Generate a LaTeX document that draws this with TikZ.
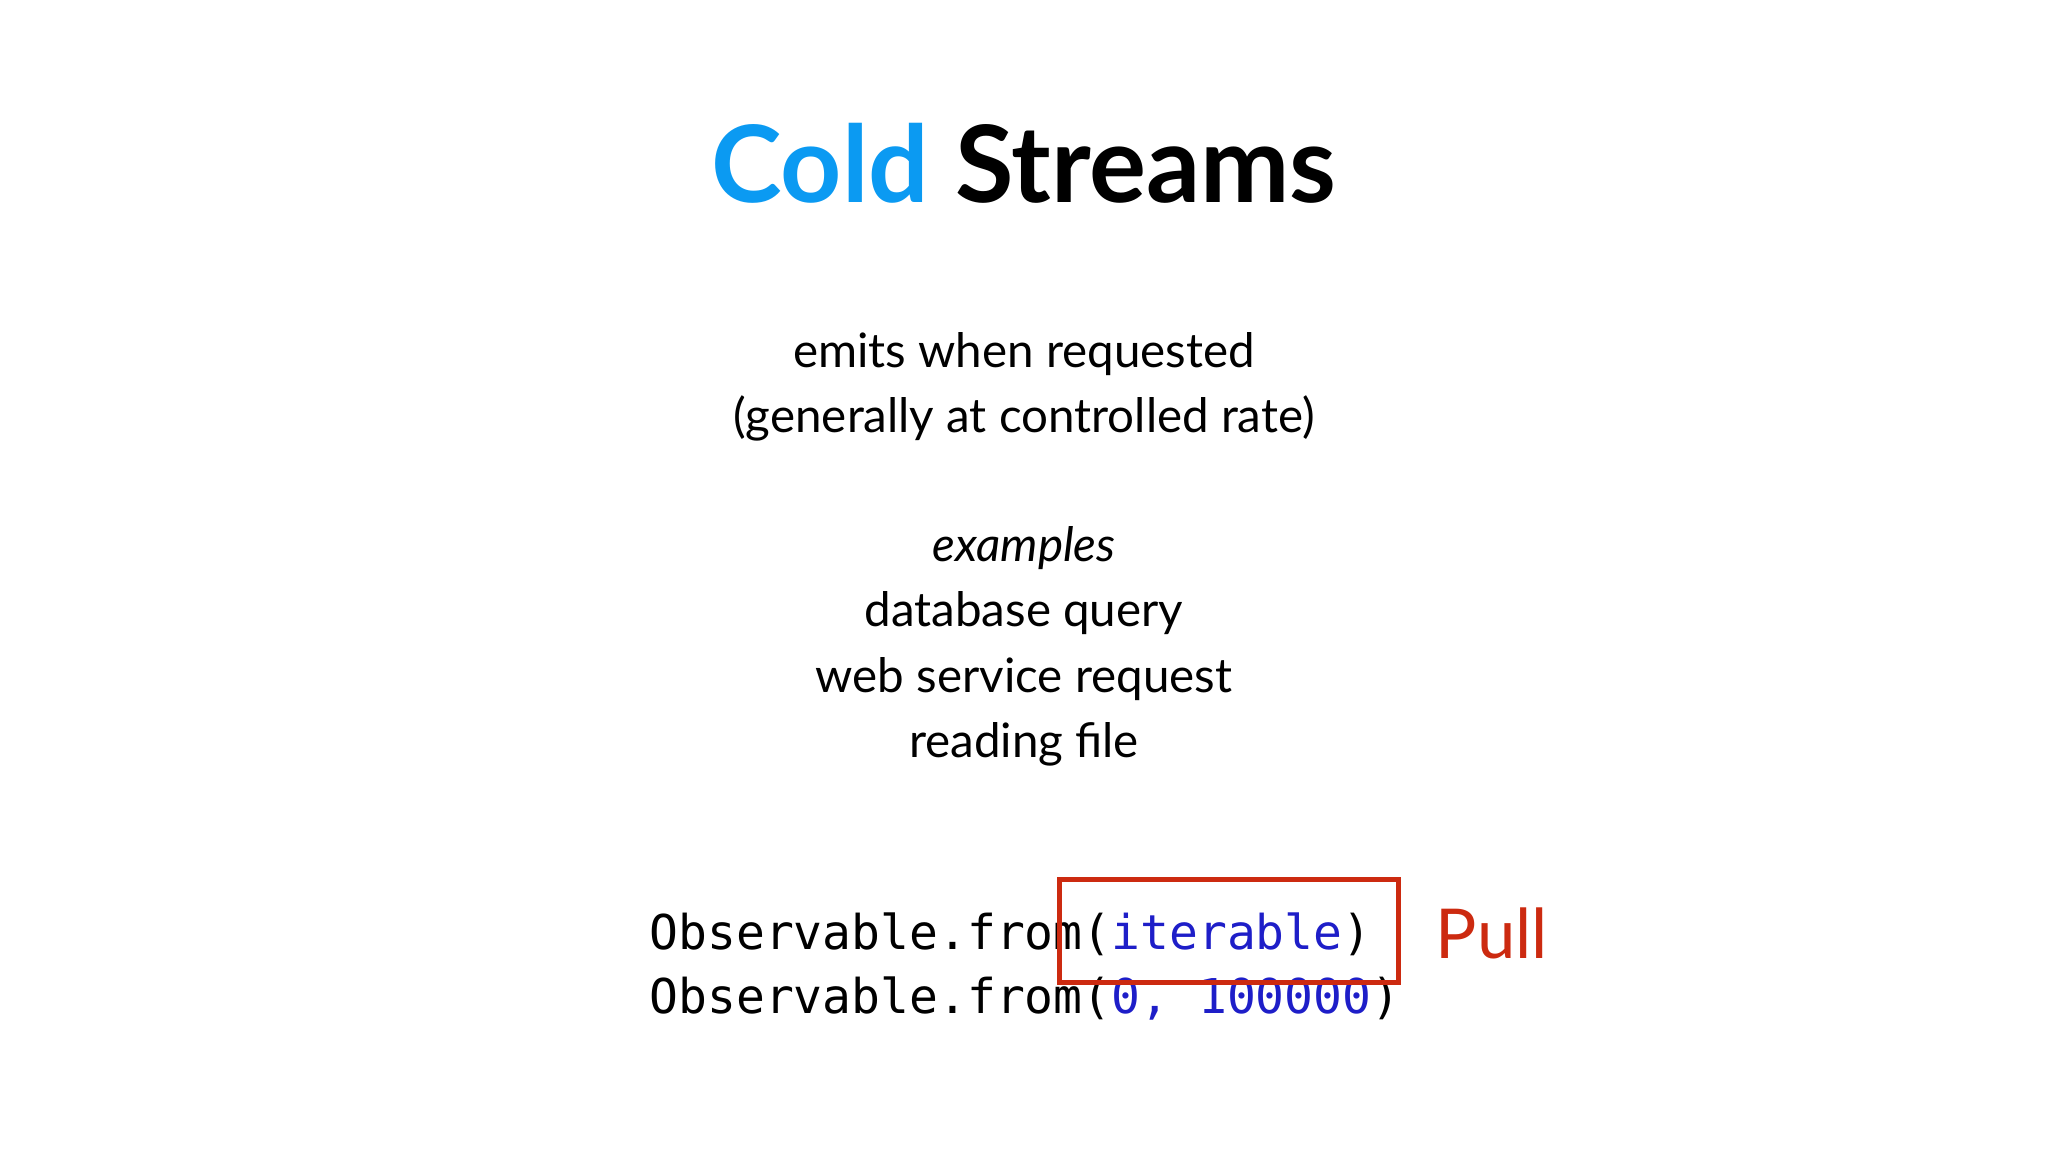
\documentclass[tikz,border=0pt]{standalone}
\usepackage{fontspec}
\setmainfont{Lato}
\setmonofont{DejaVu Sans Mono}
\definecolor{titleblue}{HTML}{0B9AF2}
\definecolor{codeblue}{HTML}{1E1EC8}
\definecolor{pullred}{HTML}{CC2A10}
\tikzset{body/.style={font=\fontsize{20.7}{24}\selectfont, anchor=base},
code/.style={font=\ttfamily\fontsize{20.9}{25}\selectfont, anchor=base west, inner sep=0pt}}
\begin{document}
\begin{tikzpicture}[x=0.02cm,y=-0.02cm]
\useasboundingbox (0,0) rectangle (1568,882);
\node[anchor=base, font=\bfseries\fontsize{46.5}{54}\selectfont] (title) at (784,155) {\textcolor{titleblue}{Cold} Streams};
\node[body] (l1) at (784,281) {emits when requested};
\node[body] (l2) at (784,331) {(generally at controlled rate)};
\node[body] (l3) at (784,430) {\itshape examples};
\node[body] (l4) at (784,480) {database query};
\node[body] (l5) at (784,530) {web service request};
\node[body] (l6) at (784,580) {reading file};
\node[code] (c1) at (497,727) {Observable.from(\textcolor{codeblue}{iterable})};
\node[code] (c2) at (497,776) {Observable.from(\textcolor{codeblue}{0, 100000})};
\draw[pullred, line width=2.2pt] (811,673) rectangle (1071,752);
\node[anchor=base west, text=pullred, font=\fontsize{30}{36}\selectfont, inner sep=0pt] (pull) at (1099,734) {Pull};
\end{tikzpicture}
\end{document}
